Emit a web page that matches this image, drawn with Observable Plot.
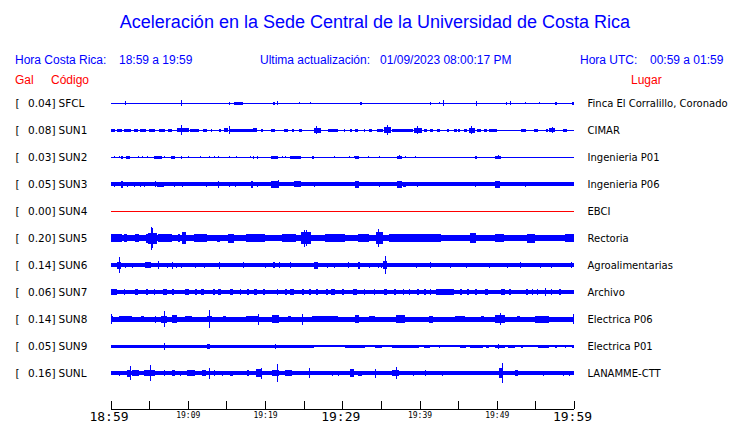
<!DOCTYPE html>
<html><head><meta charset="utf-8">
<script src="https://cdn.jsdelivr.net/npm/d3@7"></script>
<script src="https://cdn.jsdelivr.net/npm/@observablehq/plot@0.6"></script>
<style>
body{margin:0;background:#fff;}
#wrap{position:relative;width:740px;height:423px;overflow:hidden;background:#fff;}
#head{position:relative;width:740px;height:90px;font-family:"Liberation Sans",Arial,sans-serif;}
#head span{position:absolute;white-space:pre;line-height:1;}
.blue{color:#0000ff}.red{color:#ff0000}
#chart svg{display:block}
</style></head><body>
<div id="wrap">
<div id="head">
<span class="blue" style="left:10px;width:730px;text-align:center;top:13px;font-size:18px">Aceleración en la Sede Central de la Universidad de Costa Rica</span>
<span class="blue" style="left:15px;top:54px;font-size:12px">Hora Costa Rica:</span>
<span class="blue" style="left:119px;top:54px;font-size:12px">18:59 a 19:59</span>
<span class="blue" style="left:260px;top:54px;font-size:12px">Ultima actualización:   01/09/2023 08:00:17 PM</span>
<span class="blue" style="left:580px;top:54px;font-size:12px">Hora UTC:</span>
<span class="blue" style="left:650px;top:54px;font-size:12px">00:59 a 01:59</span>
<span class="red" style="left:15px;top:74px;font-size:12px">Gal</span>
<span class="red" style="left:51px;top:74px;font-size:12px">Código</span>
<span class="red" style="left:631px;top:74px;font-size:12px">Lugar</span>
</div>
<div id="chart"></div>
</div>
<script>
// ---- data ----
const codes = ["SFCL","SUN1","SUN2","SUN3","SUN4","SUN5","SUN6","SUN7","SUN8","SUN9","SUNL"];
const gals = [0.04,0.08,0.03,0.05,0.00,0.20,0.14,0.06,0.14,0.05,0.16];
const places = ["Finca El Corralillo, Coronado","CIMAR","Ingenieria P01","Ingenieria P06","EBCI","Rectoria","Agroalimentarias","Archivo","Electrica P06","Electrica P01","LANAMME-CTT"];
// background (noise) half-amplitude of each trace, display units
const bases = [0.5,0.5,0.5,1.8,0.5,3.1,1.7,1.8,2.5,0.8,1.8];
// bursts: [start minute, end minute, half-amplitude]
const evSFCL = [[1.85,1.85,2],[9.1,9.1,3],[15.3,15.3,1.5],[16.0,17.2,1.5],[21.1,21.1,1.5],[21.5,21.5,2],[24.4,24.4,1],[25.8,25.8,1.3],[32.3,32.5,1.5],[41.3,41.3,1.5],[42.5,42.5,1],[43.0,43.0,3],[47.3,47.5,2.5],[51.2,51.2,1.5],[51.7,51.7,2],[53.7,53.7,1],[55.5,55.5,1.3],[57.5,57.8,1.5],[59.8,60,1.5]];
const evSUN1 = [[0,0.6,1.5],[0.9,1.5,1.5],[1.8,2.7,1.5],[3.1,3.5,1.5],[3.8,4.6,1.5],[5.0,5.8,1.5],[6.3,7.0,1.5],[7.4,8.0,1.5],[8.6,10.2,2],[9.1,9.1,5],[10.3,11.5,1.5],[12.0,12.5,1.5],[13.0,13.2,1.5],[14.0,14.3,1.5],[14.7,15.2,2],[15.4,15.4,4],[15.5,18.4,1.5],[18.5,18.9,2],[19.5,19.7,1.5],[20.8,21.3,1.5],[22.5,23.0,1.5],[23.5,23.7,1.5],[24.4,24.8,1.5],[26.4,27.3,2.5],[26.6,26.6,4],[28.1,29.4,1.5],[30.2,30.4,1.5],[31.0,31.2,1.5],[31.7,32.1,1.5],[32.8,33.0,1.5],[33.4,33.8,1.5],[34.5,35.3,1.5],[35.4,36.3,3],[35.8,35.8,5],[36.5,39.2,1.5],[39.3,40.3,2.5],[39.7,39.7,4],[40.6,41.0,1.5],[41.4,41.8,1.5],[42.3,42.7,1.5],[43.5,43.8,1.5],[44.5,44.8,1.5],[45.0,45.3,1.5],[45.7,46.2,1.5],[46.4,47.2,2.5],[46.7,46.7,4],[47.5,48.0,1.5],[48.4,48.8,1.5],[49.0,50.0,1.5],[53.2,53.8,1.5],[54.8,55.4,1.5],[56.4,56.6,1.5],[56.8,57.5,2],[57.1,57.1,3],[58.6,59.1,1.5]];
const evSUN2 = [[0.4,0.4,1],[1.1,1.1,1],[1.4,1.6,1.5],[2.0,2.5,1.5],[3.5,3.5,1],[4.1,4.1,0.8],[4.7,4.7,1],[5.6,6.7,1.5],[6.9,6.9,1],[7.8,8.3,1.5],[9.1,9.1,1.5],[10.0,10.0,1],[11.6,11.6,1.2],[12.8,12.8,1.2],[13.4,13.4,1.2],[13.9,13.9,1],[15.4,15.4,1],[16.2,16.2,1.2],[18.0,18.0,1.2],[18.4,18.4,1.5],[19.0,19.0,1.5],[20.8,21.7,1.5],[22.2,22.2,1],[22.6,22.6,1],[23.3,24.1,1.5],[24.2,24.6,1.5],[26.1,26.4,1.5],[28.9,28.9,1],[30.9,30.9,0.8],[31.5,31.5,1],[31.7,32.2,1.5],[33.3,33.3,1],[34.7,34.7,1.2],[37.1,37.7,1.5],[37.4,37.4,2],[38.1,38.1,1.2],[39.4,39.4,1],[47.2,47.5,1.5],[49.8,50.6,1.5],[50.2,50.2,2]];
const evSUN3 = [[0.4,0.4,2.5],[1.3,1.6,3.5],[2.1,2.1,2.5],[3.1,3.1,2.5],[3.8,3.8,2.5],[4.3,4.3,2.5],[5.7,5.9,3],[6.0,6.9,2.5],[8.2,8.2,2.5],[9.2,9.2,2.5],[12.3,12.3,2.5],[13.9,14.0,3.5],[15.4,15.4,2.5],[16.1,16.3,2.5],[18.2,18.5,3.5],[19.0,19.0,2.5],[20.8,21.7,3.5],[21.7,21.7,4],[23.7,24.7,2.8],[26.3,26.3,2.5],[31.7,32.2,3.5],[34.8,34.8,2.5],[37.1,37.7,3.5],[37.9,38.2,2.5],[39.7,39.7,2.5],[47.2,47.2,2.5],[49.8,50.4,3.5],[53.7,53.7,2.5]];
const evSUN4 = [];
const evSUN5 = [[0,1.5,3.7],[1.7,2.2,4],[3.2,3.7,3.7],[4.6,4.8,4.5],[4.8,6.0,5.5],[5.2,5.2,11.5],[5.4,5.4,10],[6.2,8.0,3.8],[8.8,9.0,3.7],[9.2,9.8,6],[10.8,12.5,3.8],[13.8,14.2,3.5],[15.2,16.0,4.5],[17.5,20.0,3.8],[22.2,24.0,3.8],[24.7,25.9,6],[25.1,25.1,8.5],[25.3,25.3,8],[27.8,30.4,3.8],[32.0,33.5,3.8],[34.4,35.3,6],[34.6,34.6,9.3],[36.0,42.8,3.7],[46.5,47.3,5],[49.8,51.0,3.8],[53.9,55.0,4.5],[58.8,60,3.8]];
const evSUN6 = [[0.8,1.4,3.5],[1.1,1.1,8],[1.9,1.9,2.5],[2.8,2.8,2.5],[4.5,5.2,3],[6.2,6.2,4],[7.3,7.3,2.5],[7.9,7.9,3.5],[8.5,8.5,2.5],[9.1,9.1,2.5],[11.0,11.0,2.5],[12.1,12.1,2.5],[14.0,14.2,3.5],[17.2,17.2,3],[20.0,20.0,2.5],[21.1,21.1,3],[21.8,21.8,3],[23.3,23.3,3],[26.3,26.9,3.5],[28.0,28.0,2.5],[28.9,28.9,2.5],[30.8,30.8,3],[32.1,32.3,3.5],[33.5,33.5,2.5],[34.6,34.6,2.5],[35.0,35.0,2.5],[35.3,35.8,4],[35.5,35.5,9],[39.5,39.5,2.5],[41.4,41.4,3],[44.0,44.0,2.5],[46.0,46.0,2.5],[49.0,49.0,2.5],[51.3,51.3,2.5],[53.0,53.0,3],[55.6,55.6,2.5],[57.0,57.0,2.5],[59.6,59.6,3]];
const evSUN7 = [[0,0.8,2.8],[1.7,1.9,2.8],[3.2,3.6,2.8],[4.6,4.8,2.6],[5.6,5.8,2.8],[6.8,7.3,2.8],[8.0,8.2,2.6],[9.6,10.2,2.8],[11.0,11.2,2.6],[11.7,12.1,2.8],[13.3,13.5,2.6],[13.9,14.3,2.8],[15.5,15.9,2.8],[16.7,16.9,2.6],[17.7,17.9,2.8],[18.6,19.0,2.8],[19.8,20.0,2.6],[21.5,21.7,3],[22.6,22.8,2.6],[23.3,23.8,2.8],[24.8,25.0,2.6],[25.7,25.9,2.8],[26.6,26.8,2.6],[27.9,28.1,2.8],[28.6,29.1,2.8],[30.0,30.2,2.6],[31.4,31.9,2.8],[32.8,33.0,2.8],[34.1,34.3,2.6],[35.4,35.8,2.8],[36.7,36.9,2.6],[37.8,38.0,2.8],[38.6,38.8,2.6],[39.7,39.9,2.8],[40.6,40.8,2.6],[41.3,41.5,2.8],[42.2,44.5,2.8],[45.3,45.5,2.6],[46.2,46.4,2.8],[47.2,47.4,2.6],[48.5,48.9,2.8],[50.5,51.1,3],[51.6,51.8,2.6],[53.8,54.0,2.8],[54.5,54.7,2.6],[55.2,55.4,2.8],[56.2,56.2,4],[57.0,57.2,2.6],[58.1,58.3,2.8]];
const evSUN8 = [[0,0.3,3.2],[0.1,0.1,5],[1.1,2.8,3.1],[4.0,4.4,3],[5.7,5.9,3.5],[6.5,7.3,3.5],[6.9,6.9,8],[8.0,8.6,3.8],[9.6,10.5,3.1],[12.5,13.1,3.1],[12.8,12.8,9],[14.5,15.0,3],[17.5,19.2,3.1],[19.1,19.1,5.5],[20.9,21.8,4],[23.0,23.4,3],[24.8,24.8,5.5],[26.1,29.5,3.1],[31.6,32.2,3.8],[33.5,34.2,3],[36.9,38.1,3.8],[41.2,41.7,3.5],[44.6,45.9,3.1],[48.0,48.4,3],[49.8,51.1,4],[50.4,50.4,6],[52.6,53.0,3],[55.0,56.7,3.5],[59.9,59.9,5]];
const evSUN9 = [[0,26.3,1.5],[6.9,6.9,3.5],[12.5,12.9,2.5],[21.3,21.3,2.5],[30.4,33.0,1.5],[34.3,35.1,1.5],[36.4,39.9,1.5],[40.6,41.4,1.5],[42.5,42.6,1.5],[45.3,46.0,1.5],[46.5,48.2,1.5],[48.6,49.0,1.5],[49.8,51.1,1.5],[50.2,50.2,2.5],[51.5,52.3,1.5],[53.2,53.4,1.5],[55.4,56.7,1.5],[57.6,57.8,1.5],[58.8,59.0,1.5],[59.8,60,1.5]];
const evSUNL = [[1.1,1.1,2.5],[2.2,2.6,3.5],[2.5,2.5,7],[2.8,3.7,2.8],[4.3,5.8,3.2],[5.1,5.1,8],[6.9,7.1,2.8],[8.0,8.4,2.8],[9.0,9.0,2.5],[9.9,11.0,2.8],[11.8,12.3,3.2],[12.7,12.7,5.5],[13.4,13.4,3],[14.4,14.4,2.5],[15.5,15.9,2.5],[17.7,17.9,3.2],[18.8,19.6,3.8],[19.5,19.5,5.5],[20.9,21.8,3.2],[21.6,21.6,9],[22.6,23.5,2.8],[25.7,25.7,5],[28.7,28.7,2.5],[29.5,29.5,2.5],[31.0,31.5,4],[32.1,32.5,2.5],[34.2,34.2,4.5],[36.5,37.3,3.2],[37.0,37.0,6],[39.2,39.2,2.5],[40.7,40.7,3],[42.9,42.9,2.5],[50.3,50.7,5],[50.7,50.7,10],[52.4,52.8,2.8],[56.0,56.0,2.5],[58.6,58.6,2.5],[59.3,59.3,2.5]];
const tickMinutes = [0,5,10,15,20,25,30,35,40,45,50,55,60];
const labelMinutes = [0,10,20,30,40,50,60];
const tickLabels = ["18:59","19:09","19:19","19:29","19:39","19:49","19:59"];
const majorLabels = ["18:59","19:29","19:59"];

// ---- build tables ----
const events = [evSFCL,evSUN1,evSUN2,evSUN3,evSUN4,evSUN5,evSUN6,evSUN7,evSUN8,evSUN9,evSUNL];
const ROW = 27; // display units per row spacing
const rows = codes.map((c,i)=>({i, code:c, gal:gals[i], place:places[i], b:bases[i]}));
const ev = [];
events.forEach((list,i)=>list.forEach(([s,e,a])=>ev.push({i, s, e:Math.max(e, s+0.13), a, gal:gals[i]})));
const colorOf = g => g === 0 ? "#ff0000" : "#0000ff";
const axisLevel = codes.length + 0.35;
const labels = labelMinutes.map((m,k)=>({m, t:tickLabels[k], major: majorLabels.includes(tickLabels[k])}));

const chart = Plot.plot({
  width: 740, height: 333,
  marginLeft: 110.5, marginRight: 166, marginTop: 0, marginBottom: 0,
  style: {fontFamily: "DejaVu Sans", fontSize: "10.5px", background: "white", overflow: "visible"},
  x: {domain: [0, 60], axis: null},
  y: {domain: [0, codes.length - 1], range: [13, 283], axis: null},
  marks: [
    Plot.rect(rows, {x1: () => 0, x2: () => 60, y1: d => d.i - d.b/ROW, y2: d => d.i + d.b/ROW, fill: d => colorOf(d.gal), shapeRendering: "crispEdges"}),
    Plot.rect(ev, {x1: "s", x2: "e", y1: d => d.i - d.a/ROW, y2: d => d.i + d.a/ROW, fill: d => colorOf(d.gal), shapeRendering: "crispEdges"}),
    Plot.text(rows, {y: "i", frameAnchor: "left", text: () => "[", dx: -95.5, textAnchor: "start", fill: "black", fontSize: 10.5}),
    Plot.text(rows, {y: "i", frameAnchor: "left", text: d => d.gal.toFixed(2) + "]", dx: -55.5, textAnchor: "end", fill: "black", fontSize: 10.5}),
    Plot.text(rows, {y: "i", frameAnchor: "left", text: "code", dx: -52.5, textAnchor: "start", fill: "black", fontSize: 10.5}),
    Plot.text(rows, {y: "i", frameAnchor: "right", text: "place", dx: 13, textAnchor: "start", fill: "black", fontSize: 10}),
    Plot.ruleY([axisLevel], {stroke: "black", shapeRendering: "crispEdges"}),
    Plot.ruleX(tickMinutes, {x: d => d, y1: axisLevel - 0.31, y2: axisLevel, stroke: "black", shapeRendering: "crispEdges"}),
    Plot.text(labels.filter(d => d.major), {x: "m", y: () => axisLevel, text: "t", fontFamily: "DejaVu Sans Mono", fontSize: 13, lineAnchor: "bottom", dy: 11, dx: -2, fill: "black"}),
    Plot.text(labels.filter(d => !d.major), {x: "m", y: () => axisLevel, text: "t", fontFamily: "DejaVu Sans Mono", fontSize: 8, lineAnchor: "bottom", dy: 8, fill: "black"})
  ]
});
document.getElementById("chart").appendChild(chart);
</script>
</body></html>
